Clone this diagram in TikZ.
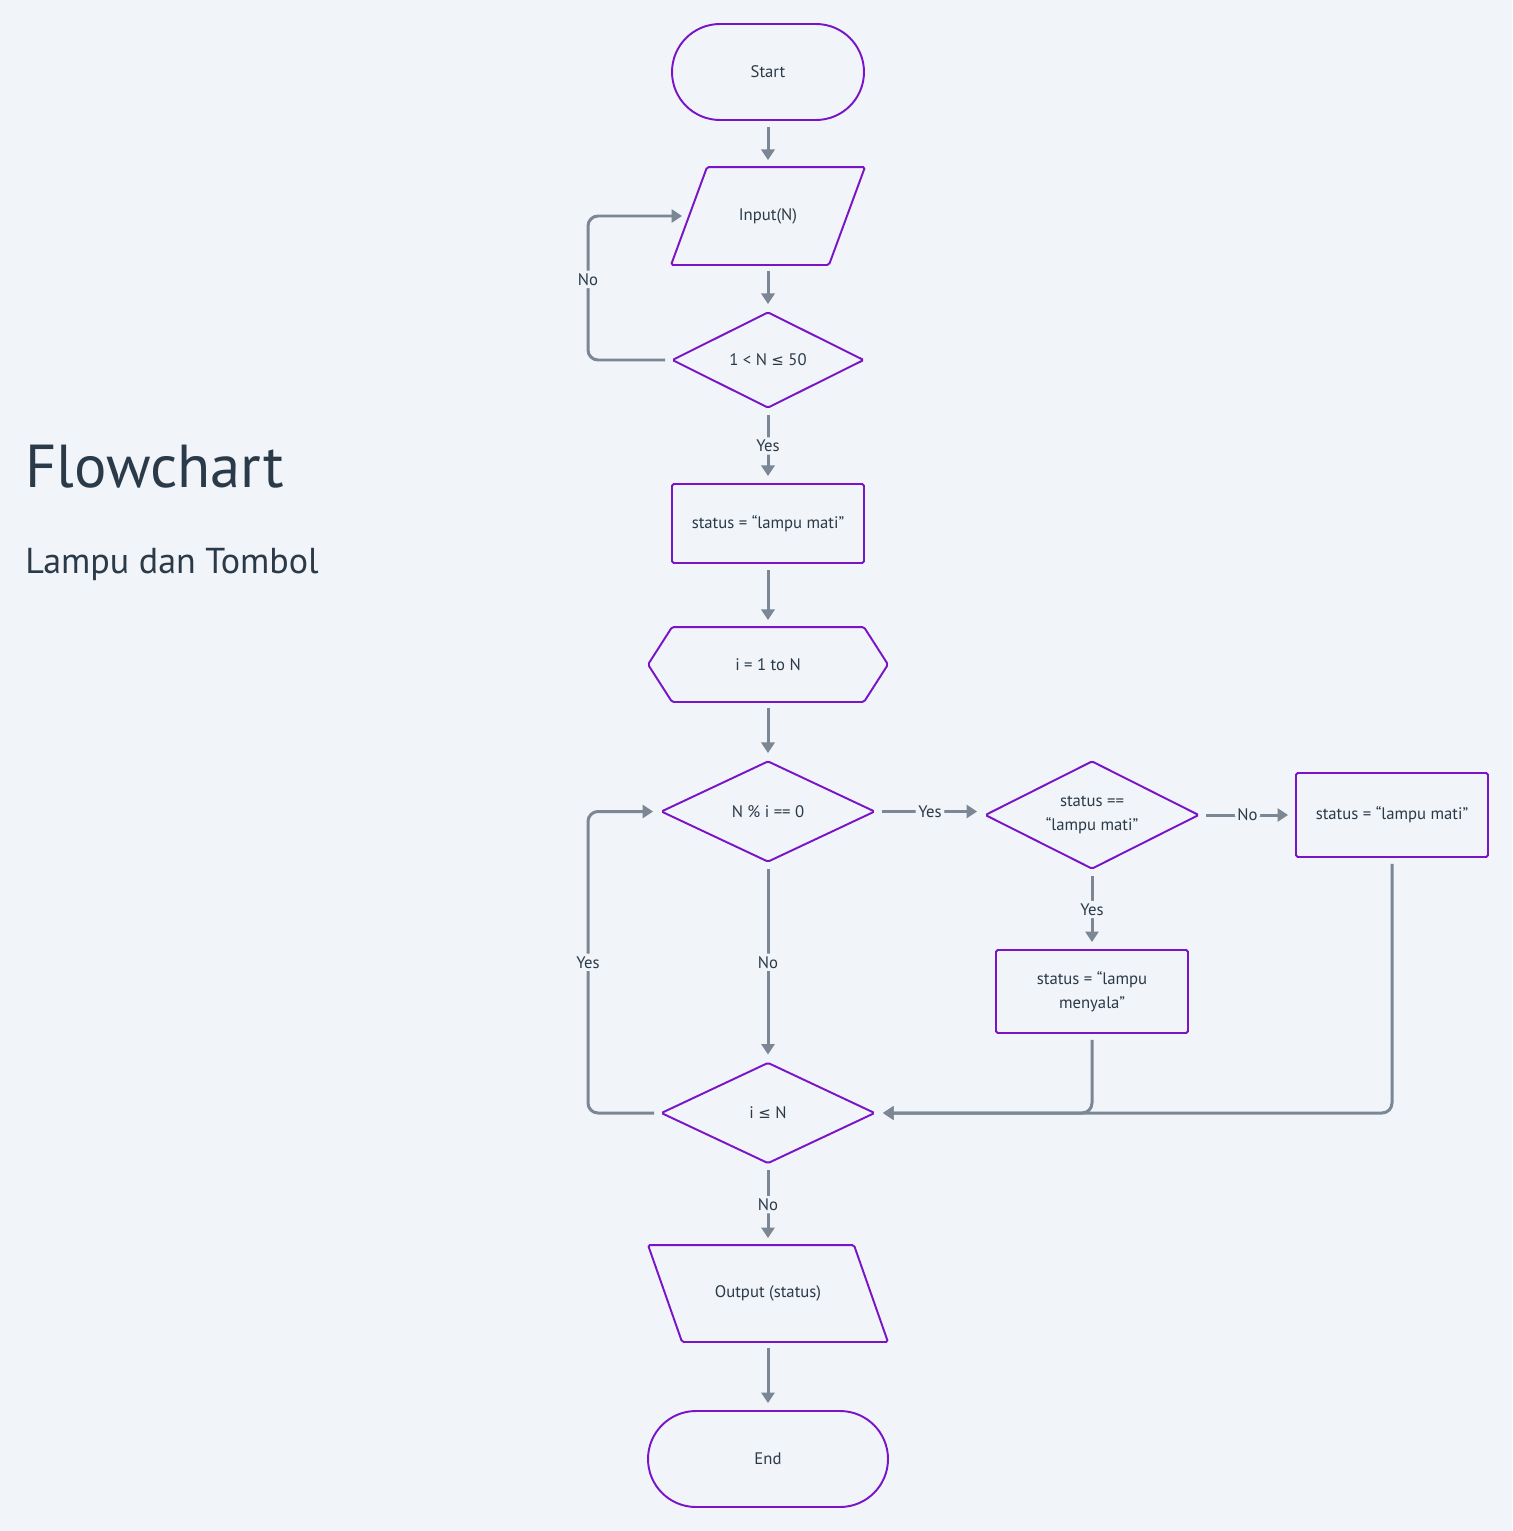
\documentclass[tikz,border=0pt]{standalone}
\usepackage{fontspec}
\setmainfont{PT Sans}
\newfontfamily\symfont{DejaVu Sans}
\definecolor{fcBg}{HTML}{F1F4F8}
\definecolor{fcPurple}{HTML}{7A14C8}
\definecolor{fcGrey}{HTML}{7B8794}
\definecolor{fcInk}{HTML}{2B3A48}
\usetikzlibrary{shapes.geometric, arrows.meta, positioning}
\newcommand{\px}{0.02cm}
\newcommand{\leqs}{{\symfont\fontsize{8.5}{10}\selectfont ≤}}

\begin{document}
\begin{tikzpicture}[x=0.02cm, y=-0.02cm,
  shp/.style={draw=fcPurple, line width=1.1pt, fill=fcBg, text=fcInk, align=center,
    font=\fontsize{9.5}{13.5}\selectfont, inner sep=0pt, rounded corners=1pt},
  outl/.style={draw=fcPurple, line width=1.1pt, rounded corners=1pt},
  term/.style={shp, rounded corners=48*\px, minimum height=96*\px},
  proc/.style={shp, minimum width=192*\px},
  dec/.style={shp, diamond, aspect=2, minimum width=214*\px, minimum height=101*\px},
  % parallelogram: #1 = half of the slant, sign gives the lean
  io/.style={shp, draw=none, fill=none, minimum height=96*\px,
    append after command={\pgfextra{\draw[outl]
      ([xshift={-(#1)*\px}]\tikzlastnode.south west) -- ([xshift={(#1)*\px}]\tikzlastnode.north west)
      -- ([xshift={(#1)*\px}]\tikzlastnode.north east) -- ([xshift={-(#1)*\px}]\tikzlastnode.south east)
      -- cycle;}}},
  prep/.style={shp, draw=none, fill=none, minimum width=190*\px, minimum height=73*\px,
    append after command={\pgfextra{\draw[outl]
      ([xshift=-24*\px]\tikzlastnode.west) -- (\tikzlastnode.north west)
      -- (\tikzlastnode.north east) -- ([xshift=24*\px]\tikzlastnode.east)
      -- (\tikzlastnode.south east) -- (\tikzlastnode.south west) -- cycle;}}},
  flow/.style={draw=fcGrey, line width=1.7pt, rounded corners=10*\px,
    -{Triangle[length=6pt, width=7.5pt]}, shorten <=6*\px, shorten >=7*\px},
  lbl/.style={fill=fcBg, text=fcInk, font=\fontsize{9.5}{12}\selectfont, inner sep=1.5pt}]
  \fill[fcBg] (0,0) rectangle (1512,1531);

  % title
  \node[anchor=base west, text=fcInk, font=\fontsize{34.5}{40}\selectfont, inner sep=0pt] (title) at (25,487) {Flowchart};
  \node[anchor=base west, text=fcInk, font=\fontsize{20.5}{25}\selectfont, inner sep=0pt] (subtitle) at (25,573) {Lampu dan Tombol};

  % shapes
  \node[term, minimum width=192*\px] (start) at (768,72) {Start};
  \node[io=18, minimum width=156*\px] (inp) at (768,216) {Input(N)};
  \node[dec, minimum width=192*\px, minimum height=96*\px] (rng) at (768,360) {1 < N \leqs{} 50};
  \node[proc, minimum height=79*\px] (init) at (768,523.5) {status = “lampu mati”};
  \node[prep] (loop) at (768,664.5) {i = 1 to N};
  \node[dec] (mod) at (768,811.5) {N \% i == 0};
  \node[dec, minimum height=108*\px] (chk) at (1092,815) {status ==\\“lampu mati”};
  \node[proc, minimum height=84*\px] (off) at (1392,815) {status = “lampu mati”};
  \node[proc, minimum height=83*\px] (on) at (1092,991.5) {status = “lampu\\menyala”};
  \node[dec] (cnd) at (768,1113) {i \leqs{} N};
  \node[io=-17, minimum width=204*\px, minimum height=95*\px] (outp) at (768,1293.5) {Output (status)};
  \node[term, minimum width=240*\px] (stop) at (768,1459) {End};

  % connectors
  \draw[flow] (start) -- (inp);
  \draw[flow] (inp) -- (rng);
  \draw[flow] (rng.west) -- (588,360) -- node[lbl, pos=0.56] {No} (588,216) -- (inp.west);
  \draw[flow] (rng) -- node[lbl] {Yes} (init);
  \draw[flow] (init) -- (loop);
  \draw[flow] (loop) -- (mod);
  \draw[flow] (mod.east) -- node[lbl] {Yes} (mod.east -| chk.west);
  \draw[flow] (chk.east) -- node[lbl] {No} (off.west);
  \draw[flow] (chk) -- node[lbl] {Yes} (on);
  \draw[flow] (mod) -- node[lbl] {No} (cnd);
  \draw[flow] (on.south) -- (1092,1113) -- (cnd.east);
  \draw[flow] (off.south) -- (1392,1113) -- (cnd.east);
  \draw[flow] (cnd.west) -- (588,1113) -- node[lbl] {Yes} (588,811.5) -- (mod.west);
  \draw[flow] (cnd) -- node[lbl] {No} (outp);
  \draw[flow] (outp) -- (stop);
\end{tikzpicture}
\end{document}
